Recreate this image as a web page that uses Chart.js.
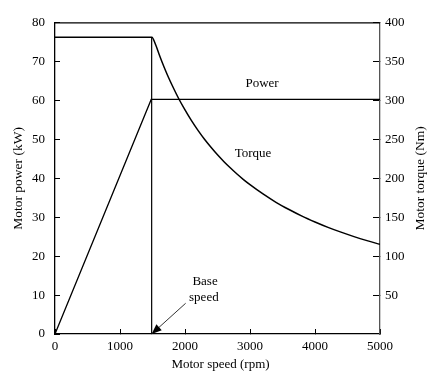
<!DOCTYPE html>
<html>
<head>
<meta charset="utf-8">
<script src="https://cdn.jsdelivr.net/npm/chart.js@4.4.1/dist/chart.umd.min.js"></script>
<style>
html,body{margin:0;padding:0;background:#fff;}
#wrap{width:427px;height:373px;}
</style>
</head>
<body>
<div id="wrap"><canvas id="c" width="427" height="373"></canvas></div>
<script>
// ---- data ----
const speedTicks = [0, 1000, 2000, 3000, 4000, 5000];
const powerTicks = [0, 10, 20, 30, 40, 50, 60, 70, 80];
const torqueTicks = [50, 100, 150, 200, 250, 300, 350, 400];

const powerSpeed = [0, 1480, 5000];
const powerKW    = [0, 60.3, 60.3];

const torqueSpeed = [0, 1490, 1550, 1600, 1650, 1700, 1750, 1800, 1900, 2000, 2100, 2200, 2300, 2400, 2500, 2600, 2700, 2800, 2900, 3000, 3200, 3400, 3600, 3800, 4000, 4200, 4400, 4600, 4800, 5000];
const torqueNm    = [381.5, 381.5, 371.5, 360, 349, 338.7, 329, 320, 303, 288, 274.2, 261.7, 250.3, 240, 230.3, 221.5, 213.3, 205.6, 198.5, 192, 180, 169.3, 160, 151.5, 144, 137.1, 130.9, 125.2, 120, 115.2];

const baseSpeed = 1487;
const baseLineTop = 76.3; // kW scale (torque plateau)

const labelTexts = ["Power", "Torque", "Base", "speed"];

const xTitle = "Motor speed (rpm)";
const yTitle = "Motor power (kW)";
const y2Title = "Motor torque (Nm)";

// annotation anchors (data units)
const annot = [
  {text: labelTexts[0], x: 3185, y: 64.3},
  {text: labelTexts[1], x: 3046, y: 46.5},
  {text: labelTexts[2], x: 2308, y: 13.6},
  {text: labelTexts[3], x: 2290, y: 9.3}
];
const arrow = {fromX: 2010, fromY: 7.9, toX: baseSpeed, toY: 0};

const FONT = "'Liberation Serif', 'DejaVu Serif', serif";
const INK = '#000';

const pts = (xs, ys) => xs.map((x, i) => ({x, y: ys[i]}));

const overlay = {
  id: 'overlay',
  afterDraw(chart) {
    const {ctx, chartArea: a, scales} = chart;
    const x = scales.x, y = scales.y;
    ctx.save();
    ctx.strokeStyle = INK; ctx.lineWidth = 1.3;
    ctx.beginPath(); ctx.moveTo(a.left, a.top); ctx.lineTo(a.right, a.top); ctx.stroke();
    ctx.fillStyle = INK;
    ctx.font = "13px " + FONT;
    ctx.textAlign = 'center'; ctx.textBaseline = 'middle';
    annot.forEach(t => ctx.fillText(t.text, x.getPixelForValue(t.x), y.getPixelForValue(t.y)));
    const x0 = x.getPixelForValue(arrow.fromX), y0 = y.getPixelForValue(arrow.fromY);
    const x1 = x.getPixelForValue(arrow.toX), y1 = y.getPixelForValue(arrow.toY);
    ctx.strokeStyle = '#333'; ctx.lineWidth = 1;
    ctx.beginPath(); ctx.moveTo(x0, y0); ctx.lineTo(x1, y1); ctx.stroke();
    const ang = Math.atan2(y1 - y0, x1 - x0), L = 10, W = 4;
    ctx.fillStyle = INK;
    ctx.beginPath();
    ctx.moveTo(x1, y1);
    ctx.lineTo(x1 - L*Math.cos(ang) + W*Math.sin(ang), y1 - L*Math.sin(ang) - W*Math.cos(ang));
    ctx.lineTo(x1 - L*Math.cos(ang) - W*Math.sin(ang), y1 - L*Math.sin(ang) + W*Math.cos(ang));
    ctx.closePath(); ctx.fill();
    ctx.fillStyle = INK;
    ctx.font = "13px " + FONT;
    ctx.textAlign = 'center'; ctx.textBaseline = 'middle';
    ctx.fillText(xTitle, (a.left + a.right) / 2 + 3, a.bottom + 31);
    const cy = (a.top + a.bottom) / 2;
    ctx.font = "13.5px " + FONT;
    ctx.save(); ctx.translate(18, cy); ctx.rotate(-Math.PI/2); ctx.fillText(yTitle, 0, 0); ctx.restore();
    ctx.save(); ctx.translate(chart.width - 7, cy); ctx.rotate(-Math.PI/2); ctx.fillText(y2Title, 0, 0); ctx.restore();
    ctx.restore();
  }
};

const tickFont = {family: FONT, size: 13};
const plain = v => String(v);

new Chart(document.getElementById('c'), {
  type: 'scatter',
  data: {
    datasets: [
      {label: 'Power', data: pts(powerSpeed, powerKW), yAxisID: 'y', showLine: true,
       borderColor: INK, borderWidth: 1.3, pointRadius: 0, tension: 0},
      {label: 'Torque', data: pts(torqueSpeed, torqueNm), yAxisID: 'y2', showLine: true,
       borderColor: INK, borderWidth: 1.5, pointRadius: 0, cubicInterpolationMode: 'monotone'},
      {label: 'Base speed', data: [{x: baseSpeed, y: 0}, {x: baseSpeed, y: baseLineTop}], yAxisID: 'y', showLine: true,
       borderColor: INK, borderWidth: 1.2, pointRadius: 0}
    ]
  },
  options: {
    responsive: false,
    animation: false,
    layout: {padding: {top: 19, left: 0, right: 0, bottom: 0}},
    plugins: {legend: {display: false}, tooltip: {enabled: false}, title: {display: false}},
    scales: {
      x: {
        type: 'linear', min: 0, max: 5000,
        afterBuildTicks: s => { s.ticks = speedTicks.map(v => ({value: v})); },
        ticks: {font: tickFont, color: INK, padding: 10, maxRotation: 0, autoSkip: false, callback: plain},
        grid: {drawOnChartArea: false, drawTicks: true, tickLength: -5, color: INK, lineWidth: 1},
        border: {display: true, color: INK, width: 1.3},
        afterFit: s => { s.height = 39; }
      },
      y: {
        type: 'linear', position: 'left', min: 0, max: 80,
        afterBuildTicks: s => { s.ticks = powerTicks.map(v => ({value: v})); },
        ticks: {font: tickFont, color: INK, padding: 15, autoSkip: false, callback: plain},
        grid: {drawOnChartArea: false, drawTicks: true, tickLength: -5, color: INK, lineWidth: 1},
        border: {display: true, color: INK, width: 1.3},
        afterFit: s => { s.width = 55; }
      },
      y2: {
        type: 'linear', position: 'right', min: 0, max: 400,
        afterBuildTicks: s => { s.ticks = torqueTicks.map(v => ({value: v})); },
        ticks: {font: tickFont, color: INK, padding: 12, autoSkip: false, callback: plain},
        grid: {drawOnChartArea: false, drawTicks: true, tickLength: -7, color: INK, lineWidth: 1},
        border: {display: true, color: '#555', width: 1.3},
        afterFit: s => { s.width = 47; }
      }
    }
  },
  plugins: [overlay]
});
</script>
</body>
</html>
